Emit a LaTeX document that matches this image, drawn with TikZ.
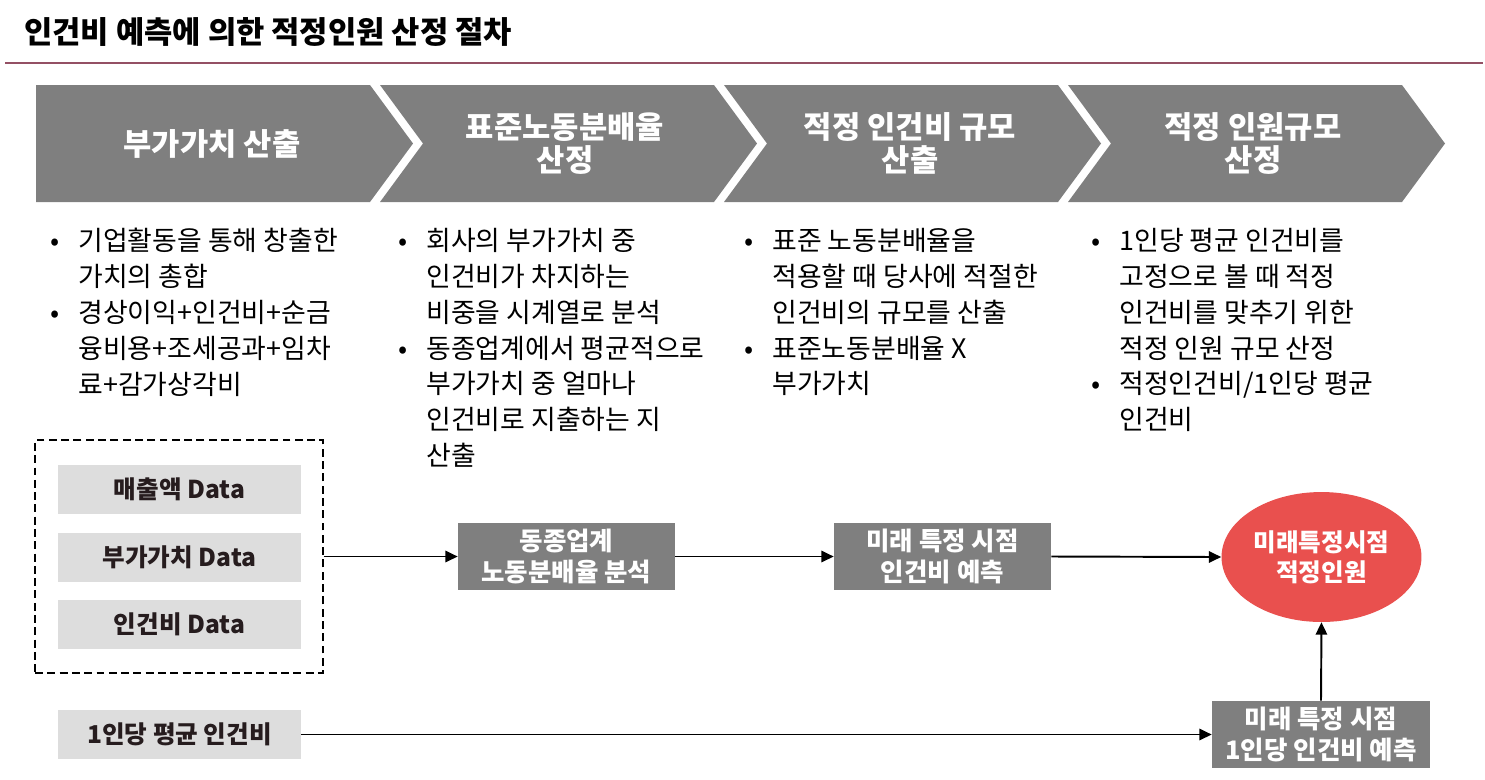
\documentclass[tikz,border=0pt]{standalone}
\usepackage{fontspec}
\setmainfont{Noto Sans CJK KR}
\usepackage{tikz}
\usetikzlibrary{positioning,arrows.meta,shapes.geometric}
\definecolor{stagegray}{RGB}{127,127,127}
\definecolor{datagray}{RGB}{221,221,221}
\definecolor{datatext}{RGB}{38,28,30}
\definecolor{ruleline}{RGB}{148,80,100}
\definecolor{targetred}{RGB}{233,80,78}
\newcommand{\fs}[2]{\fontsize{#1}{#2}\selectfont}
\newcommand{\bl}{\makebox[16pt][l]{\textbullet}}
\newcommand{\ind}{\hspace*{16pt}}
\newcommand{\chevron}[2]{% stage index, notch depth
  \pgfmathsetmacro{\chevx}{36+344*#1}
  \fill[stagegray] (\chevx,85) -- (\chevx+334,85) -- (\chevx+377,143.5)
        -- (\chevx+334,202) -- (\chevx,202) -- (\chevx+#2,143.5) -- cycle;}

\begin{document}
\begin{tikzpicture}[x=0.02cm, y=-0.02cm,
  stagetext/.style={text=white, font=\bfseries\fs{17.5}{18.7}, align=center},
  pointlist/.style={anchor=north west, align=left, inner sep=0pt, font=\fs{15.3}{20.4}},
  databox/.style={fill=datagray, text=datatext, font=\bfseries\fs{14}{16},
    minimum width=4.86cm, minimum height=0.98cm, inner sep=0pt},
  stepbox/.style={fill=stagegray, text=white, font=\bfseries\fs{14.5}{18}, align=center,
    minimum width=4.36cm, minimum height=1.34cm, inner sep=0pt},
  flow/.style={-{Triangle[length=7pt,width=6.5pt]}, line width=1.1pt}]
  \useasboundingbox (0,0) rectangle (1485,779);
  % title
  \node[anchor=west, font=\bfseries\fs{17.5}{20}] (title) at (18,32) {인건비 예측에 의한 적정인원 산정 절차};
  \draw[ruleline, line width=1.1pt] (5,63) -- (1483,63);
  % stages
  \chevron{0}{0}
  \chevron{1}{43}
  \chevron{2}{43}
  \chevron{3}{43}
  \node[stagetext] (s1) at (212,143.5) {부가가치 산출};
  \node[stagetext] (s2) at (565,143.5) {표준노동분배율\\산정};
  \node[stagetext] (s3) at (910,143.5) {적정 인건비 규모\\산출};
  \node[stagetext] (s4) at (1253,143.5) {적정 인원규모\\산정};
  % bullet lists
  \node[pointlist] (p1) at (50,228) {\bl 기업활동을 통해 창출한\\\ind 가치의 총합\\
    \bl 경상이익+인건비+순금\\\ind 융비용+조세공과+임차\\\ind 료+감가상각비};
  \node[pointlist] (p2) at (398,228) {\bl 회사의 부가가치 중\\\ind 인건비가 차지하는\\\ind 비중을 시계열로 분석\\
    \bl 동종업계에서 평균적으로\\\ind 부가가치 중 얼마나\\\ind 인건비로 지출하는 지\\\ind 산출};
  \node[pointlist] (p3) at (744,228) {\bl 표준 노동분배율을\\\ind 적용할 때 당사에 적절한\\\ind 인건비의 규모를 산출\\
    \bl 표준노동분배율 X\\\ind 부가가치};
  \node[pointlist] (p4) at (1091,228) {\bl 1인당 평균 인건비를\\\ind 고정으로 볼 때 적정\\\ind 인건비를 맞추기 위한\\\ind 적정 인원 규모 산정\\
    \bl 적정인건비/1인당 평균\\\ind 인건비};
  % data sources
  \node[draw, line width=1.1pt, dash pattern=on 4.5pt off 2.5pt,
    minimum width=5.76cm, minimum height=4.66cm] (dataset) at (179,556.5) {};
  \node[databox] (sales) at (179.5,489.5) {매출액 Data};
  \node[databox] (value) at (179.5,557.5) {부가가치 Data};
  \node[databox] (labor) at (179.5,624.5) {인건비 Data};
  \node[databox] (perhead) at (179.5,734.5) {1인당 평균 인건비};
  % flow
  \node[stepbox, minimum width=4.34cm] (peer) at (566.5,556.5) {동종업계\\노동분배율 분석};
  \node[stepbox, minimum width=4.34cm] (future) at (942.5,556.5) {미래 특정 시점\\인건비 예측};
  \node[ellipse, fill=targetred, text=white, font=\bfseries\fs{14}{17}, align=center,
    minimum width=4cm, minimum height=2.6cm, inner sep=0pt] (target) at (1321.5,557) {미래특정시점\\적정인원};
  \node[stepbox] (futurehead) at (1321,734.5) {미래 특정 시점\\1인당 인건비 예측};
  \draw[flow] (dataset.east) -- (peer.west);
  \draw[flow] (peer.east) -- (future.west);
  \draw[flow] (future.east) -- (target.west);
  \draw[flow] (perhead.east) -- (futurehead.west);
  \draw[flow] (futurehead.north) -- (target.south);
\end{tikzpicture}
\end{document}
